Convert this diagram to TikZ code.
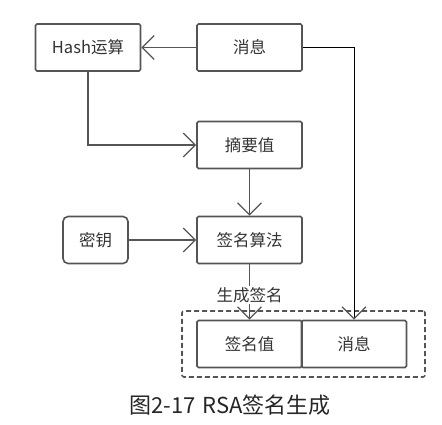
\documentclass[tikz,border=0pt]{standalone}
\usepackage{fontspec}
\setmainfont{Noto Sans CJK SC}
\usetikzlibrary{arrows.meta}
\definecolor{edge}{HTML}{555555}
\begin{document}
\begin{tikzpicture}[x=1pt,y=-1pt,
  box/.style={draw=edge,line width=1.6pt,rounded corners=1.5pt,minimum width=105pt,minimum height=47pt,inner sep=0pt,font=\fontsize{16.5}{18}\selectfont,text=black!80},
  keybox/.style={box,minimum width=65pt,rounded corners=5pt},
  arr/.style={draw=edge,line width=1.6pt,-{Straight Barb[length=12pt,width=24pt,line width=1.3pt]}},
  thinarr/.style={draw=black,line width=0.9pt,-{Straight Barb[length=12pt,width=24pt,line width=1.3pt,color=edge]}}]
\useasboundingbox (0,0) rectangle (442,425);
\node[box] (hash) at (88,47.5) {Hash运算};
\node[box] (msg) at (249.5,47.5) {消息};
\node[box] (dig) at (249.5,145) {摘要值};
\node[keybox] (key) at (95.5,240) {密钥};
\node[box] (alg) at (249.5,240) {签名算法};
\node[box] (sig) at (249.5,344) {签名值};
\node[box] (msg2) at (354,344) {消息};
\node[draw=edge,line width=1.6pt,dash pattern=on 5pt off 3pt,rounded corners=2pt,minimum width=243pt,minimum height=66pt,inner sep=0pt] (grp) at (303.5,344) {};
\coordinate (c1) at (88,145);
\coordinate (c2) at (354,47.5);
\draw[arr] (msg.west) -- (hash.east);
\draw[arr] (hash.south -| c1) -- (c1) -- (dig.west);
\draw[arr] (dig.south) -- (alg.north);
\draw[arr] (key.east) -- (alg.west);
\draw[arr] (alg.south) -- node[fill=white,inner sep=1pt,font=\fontsize{16.5}{18}\selectfont,text=black!80,yshift=-3pt]{生成签名} (sig.north);
\draw[thinarr] (msg.east) -- (c2) -- (msg2.north);
\node[font=\fontsize{22}{24}\selectfont,text=black!85] (cap) at (230,405) {图2-17\hspace{0.1em} RSA签名生成};
\end{tikzpicture}
\end{document}
